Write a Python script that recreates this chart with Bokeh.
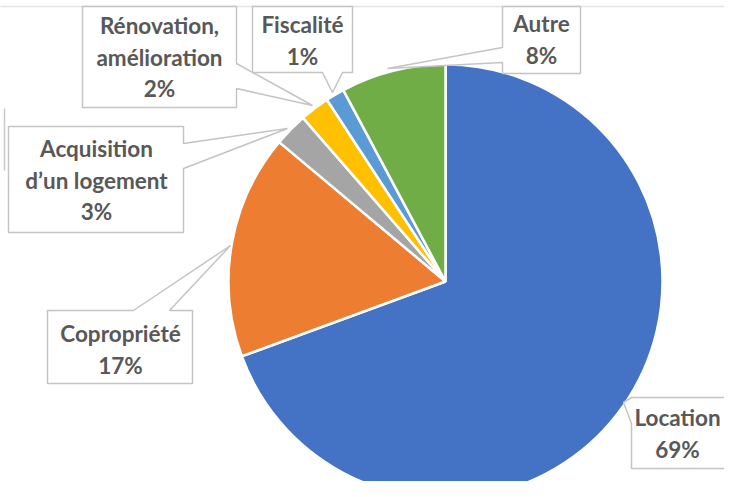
import numpy as np
from bokeh.plotting import figure
from bokeh.models import Range1d, ColumnDataSource
from bokeh.core.properties import value
from bokeh.embed import file_html
from bokeh.resources import INLINE

# ---- data ----
categories = ["Location", "Copropriété", "Acquisition d’un logement",
              "Rénovation, amélioration", "Fiscalité", "Autre"]
shares = [69.4, 16.7, 2.5, 2.2, 1.4, 7.8]
pct_labels = ["69%", "17%", "3%", "2%", "1%", "8%"]
label_lines = [["Location"], ["Copropriété"], ["Acquisition", "d’un logement"],
               ["Rénovation,", "amélioration"], ["Fiscalité"], ["Autre"]]
colors = ["#4472C4", "#ED7D31", "#A5A5A5", "#FFC000", "#5B9BD5", "#70AD47"]

# ---- layout (image pixel coords, y down) ----
H = 497
def Y(y):
    return H - y

cx, cy, R = 445, 281, 217

# callout polygons
callouts = [
    [(631, 397), (760, 397), (760, 468), (631, 468), (631, 423), (623, 402)],            # Location
    [(47, 310), (133, 310), (230, 245), (169, 310), (192, 310), (192, 383), (47, 383)],  # Copro
    [(8, 126), (183, 126), (183, 143), (287, 128), (183, 168), (183, 232), (8, 232)],    # Acquisition
    [(82, 6), (236, 6), (236, 63), (312, 105), (236, 88), (236, 107), (82, 107)],        # Renovation
    [(252, 6), (352, 6), (352, 72), (342, 72), (332, 92), (322, 72), (252, 72)],         # Fiscalite
    [(502, 6), (580, 6), (580, 73), (502, 73), (502, 62), (387, 68), (502, 47)],         # Autre
]
text_centers = [(677, 417), (120, 333), (96, 148), (159, 25), (302, 24), (541, 23)]
line_step = 31.5

p = figure(width=724, height=481, output_backend="svg", toolbar_location=None,
           x_range=Range1d(0, 724), y_range=Range1d(Y(481), Y(0)),
           min_border=0)
p.axis.visible = False
p.grid.visible = False
p.outline_line_color = None
p.background_fill_color = "white"

# top frame line
p.line([-10, 760], [Y(6), Y(6)], line_color="#e4e4e4", line_width=1.5)
# partial box edge at the far left
p.line([4, 4], [Y(108), Y(170)], line_color="#c8c8c8", line_width=1.5)

# pie
frac = np.array(shares) / sum(shares)
cum = np.concatenate([[0], np.cumsum(frac)])
start = np.pi / 2 - cum[:-1] * 2 * np.pi
end = np.pi / 2 - cum[1:] * 2 * np.pi
src = ColumnDataSource(dict(start=start, end=end, color=colors, cat=categories))
p.wedge(x=cx, y=Y(cy), radius=R, start_angle="start", end_angle="end",
        direction="clock", fill_color="color", line_color="white", line_width=2.5,
        source=src)

# callouts
for poly in callouts:
    xs = [q[0] for q in poly]
    ys = [Y(q[1]) for q in poly]
    p.patch(xs, ys, fill_color="white", line_color="#c4c4c4", line_width=1.5)

# texts
tx, ty, tt = [], [], []
for (x0, y0), lines, pct in zip(text_centers, label_lines, pct_labels):
    for k, s in enumerate(lines + [pct]):
        tx.append(x0)
        ty.append(Y(y0 + k * line_step))
        tt.append(s)
p.text(x=tx, y=ty, text=tt, text_align="center", text_baseline="middle",
       text_font=value("Lato"), text_font_style="bold", text_font_size="22.5px",
       text_color="#585858")

open("out.html", "w").write(file_html(p, INLINE))
